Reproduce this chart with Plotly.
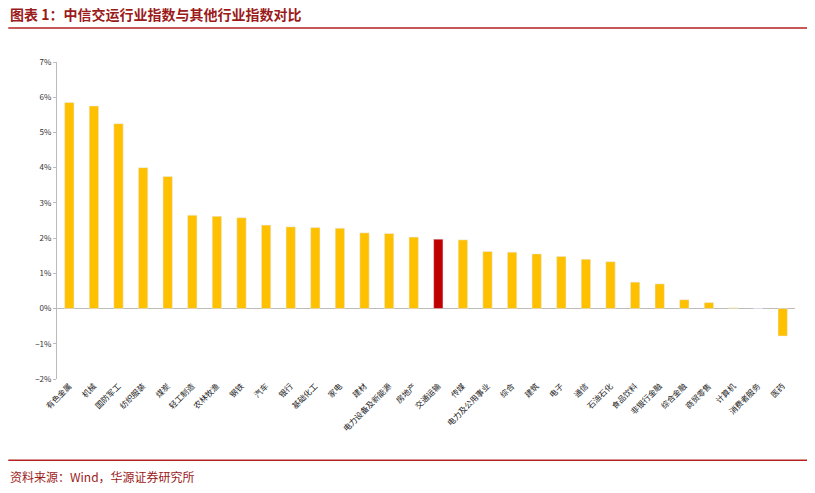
import plotly.graph_objects as go

industries = ["有色金属", "机械", "国防军工", "纺织服装", "煤炭", "轻工制造", "农林牧渔", "钢铁", "汽车", "银行",
              "基础化工", "家电", "建材", "电力设备及新能源", "房地产", "交通运输", "传媒", "电力及公用事业", "综合", "建筑",
              "电子", "通信", "石油石化", "食品饮料", "非银行金融", "综合金融", "商贸零售", "计算机", "消费者服务", "医药"]
values = [5.85, 5.75, 5.25, 4.0, 3.75, 2.65, 2.62, 2.58, 2.37, 2.32,
          2.3, 2.28, 2.15, 2.13, 2.03, 1.97, 1.95, 1.62, 1.6, 1.55,
          1.48, 1.4, 1.33, 0.75, 0.7, 0.25, 0.17, 0.02, 0.0, -0.78]
highlight = "交通运输"

colors = ["#C00000" if n == highlight else "#FFC000" for n in industries]
font = "Noto Sans CJK SC"

fig = go.Figure(go.Bar(x=industries, y=values, marker_color=colors, width=0.38))

fig.update_layout(
    width=800, height=478,
    margin=dict(l=49, r=13, t=54, b=107),
    plot_bgcolor="white", paper_bgcolor="white",
    font=dict(family=font, size=8, color="#333"),
    showlegend=False,
)
fig.update_yaxes(range=[-2, 7], dtick=1, ticksuffix="%", showgrid=False,
                 zeroline=True, zerolinecolor="#bbb", zerolinewidth=1,
                 showline=True, linecolor="#bbb", ticks="outside", ticklen=3, tickcolor="#bbb")
fig.update_xaxes(tickangle=-45, showline=False, tickfont=dict(size=8, color="#222"))

fig.add_annotation(text="<b>图表 1：中信交运行业指数与其他行业指数对比</b>", xref="paper", yref="paper",
                   x=-0.066, y=1.151, xanchor="left", yanchor="middle", showarrow=False,
                   font=dict(size=14, color="#9B1B1B", family=font))
fig.add_annotation(text="资料来源：Wind，华源证券研究所", xref="paper", yref="paper",
                   x=-0.066, y=-0.309, xanchor="left", yanchor="middle", showarrow=False,
                   font=dict(size=12, color="#9B1B1B", family=font))
fig.add_shape(type="line", xref="paper", yref="paper", x0=-0.066, x1=1.0176, y0=1.107, y1=1.107,
              line=dict(color="#B22222", width=1.5))
fig.add_shape(type="line", xref="paper", yref="paper", x0=-0.066, x1=1.0176, y0=-0.256, y1=-0.256,
              line=dict(color="#B22222", width=1.5))

fig.write_html("out.html")
